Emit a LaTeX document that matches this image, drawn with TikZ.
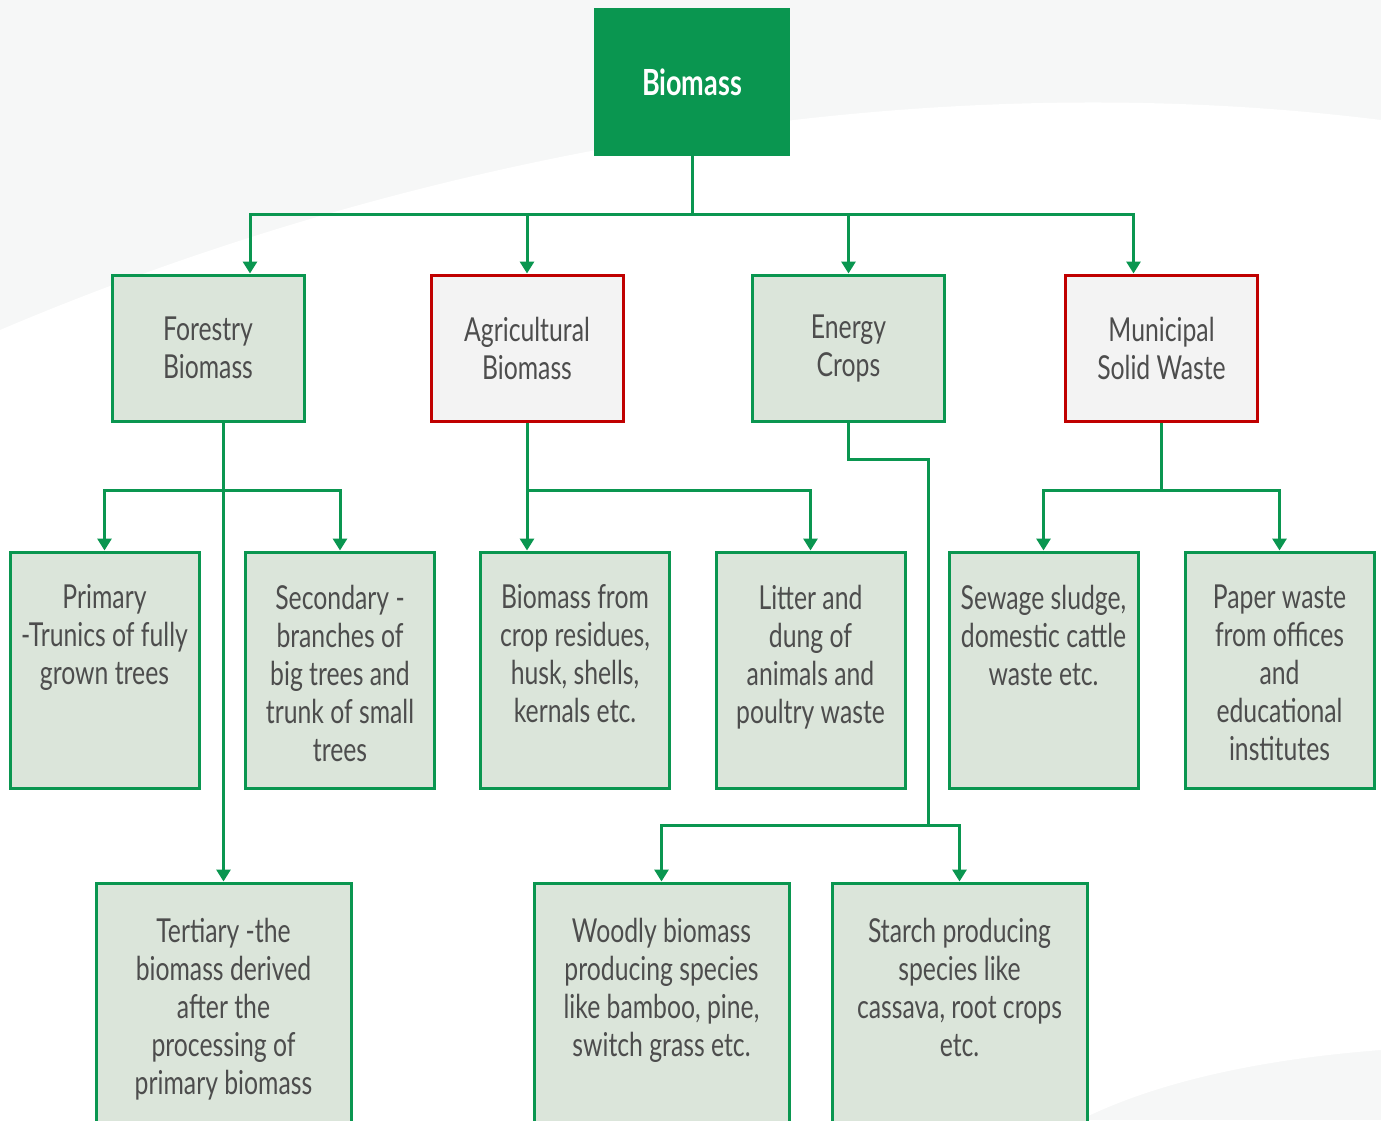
\documentclass[tikz,border=0pt]{standalone}
\usepackage{fontspec}
\setmainfont{Lato}[FakeStretch=0.75]
\usepackage{tikz}
\usepackage{xcolor}
\usetikzlibrary{arrows.meta,positioning,calc}
\definecolor{Leaf}{HTML}{0A9650}
\definecolor{LeafFill}{HTML}{DBE5DA}
\definecolor{Alert}{HTML}{C00000}
\definecolor{Paper}{HTML}{F3F3F3}
\definecolor{Ink}{HTML}{4D4D4D}
\definecolor{Haze}{HTML}{F6F7F7}

\tikzset{
  wire/.style={Leaf,line width=1.5pt},
  flow/.style={wire,-{Triangle[length=6pt,width=7pt]}},
  head/.style={fill=Leaf,minimum width=98pt,minimum height=74pt,inner sep=0pt,
    text=white,font=\fontsize{18}{21}\selectfont\bfseries},
  group/.style={draw=Leaf,line width=1.5pt,fill=LeafFill,minimum width=96pt,
    minimum height=73pt,inner sep=0pt,align=center,text=Ink,
    font=\fontsize{16.5}{19}\selectfont},
  waste/.style={group,draw=Alert,fill=Paper},
  leaf/.style={draw=Leaf,line width=1.5pt,fill=LeafFill,minimum width=94.5pt,
    minimum height=118pt,inner sep=0pt},
  deep/.style={leaf,minimum width=127.5pt,minimum height=130pt},
  note/.style={anchor=north,yshift=-17pt,align=center,text=Ink,inner sep=0pt,
    font=\fontsize{16.5}{19}\selectfont},
  lownote/.style={note,yshift=-1pt}
}

\begin{document}
\begin{tikzpicture}[x=0.5pt,y=-0.5pt]
  \useasboundingbox (0,0) rectangle (1381,1120);
  \clip (0,0) rectangle (1381,1120);
  % background
  \fill[Haze] (0,0) rectangle (1381,1120);
  \fill[white] (0,330) .. controls (400,160) and (900,60) .. (1381,120)
    -- (1381,1050) .. controls (1250,1060) and (1150,1085) .. (1080,1120)
    -- (0,1120) -- cycle;

  \node[head] (bio) at (692,82) {Biomass};

  \node[group] (forest) at (208,348) {Forestry\\Biomass};
  \node[waste] (agri) at (527,348) {Agricultural\\Biomass};
  \node[group] (energy) at (848.5,348) {Energy\\Crops};
  \node[waste] (munic) at (1161.5,348) {Municipal\\Solid Waste};

  \node[leaf,label={[note]north:Primary\\-Trunics of fully\\grown trees}]
    (prim) at (104.5,670) {};
  \node[leaf,label={[note]north:Secondary -\\branches of\\big trees and\\trunk of small\\trees}]
    (sec) at (340,670) {};
  \node[leaf,label={[note]north:Biomass from\\crop residues,\\husk, shells,\\kernals etc.}]
    (crop) at (575,670) {};
  \node[leaf,label={[note]north:Litter and\\dung of\\animals and\\poultry waste}]
    (litter) at (810.5,670) {};
  \node[leaf,label={[note]north:Sewage sludge,\\domestic cattle\\waste etc.}]
    (sewage) at (1043.5,670) {};
  \node[leaf,label={[note]north:Paper waste\\from offices\\and\\educational\\institutes}]
    (paper) at (1279.5,670) {};

  \node[deep,label={[lownote]north:Tertiary -the\\biomass derived\\after the\\processing of\\primary biomass}]
    (tert) at (223.5,1013) {};
  \node[deep,label={[lownote]north:Woodly biomass\\producing species\\like bamboo, pine,\\switch grass etc.}]
    (wood) at (661.5,1013) {};
  \node[deep,label={[lownote]north:Starch producing\\species like\\cassava, root crops\\etc.}]
    (starch) at (959.5,1013) {};

  % top level
  \coordinate (bus) at (692,214);
  \draw[wire] (bio) -- (bus);
  \draw[flow] (bus) -| ([xshift=21pt]forest.north);
  \draw[flow] (bus) -| (agri.north);
  \draw[flow] (bus) -| (energy.north);
  \draw[flow] (bus) -| ([xshift=-14pt]munic.north);

  % forestry
  \coordinate (fj) at (tert.north |- 0,490);
  \draw[flow] (tert.north |- forest.south) -- (tert.north);
  \draw[flow] (fj) -| (prim.north);
  \draw[flow] (fj) -| (sec.north);

  % agricultural
  \coordinate (aj) at (agri.south |- 0,490);
  \draw[flow] (agri.south) -- (agri.south |- crop.north);
  \draw[flow] (aj) -| (litter.north);

  % energy crops
  \coordinate (ej) at (928,825);
  \draw[wire] (energy.south) |- (928,459) -- (ej);
  \draw[flow] (ej) -| (wood.north);
  \draw[flow] (ej) -| (starch.north);

  % municipal
  \coordinate (mj) at (munic.south |- 0,490);
  \draw[wire] (munic) -- (mj);
  \draw[flow] (mj) -| (sewage.north);
  \draw[flow] (mj) -| (paper.north);
\end{tikzpicture}
\end{document}
